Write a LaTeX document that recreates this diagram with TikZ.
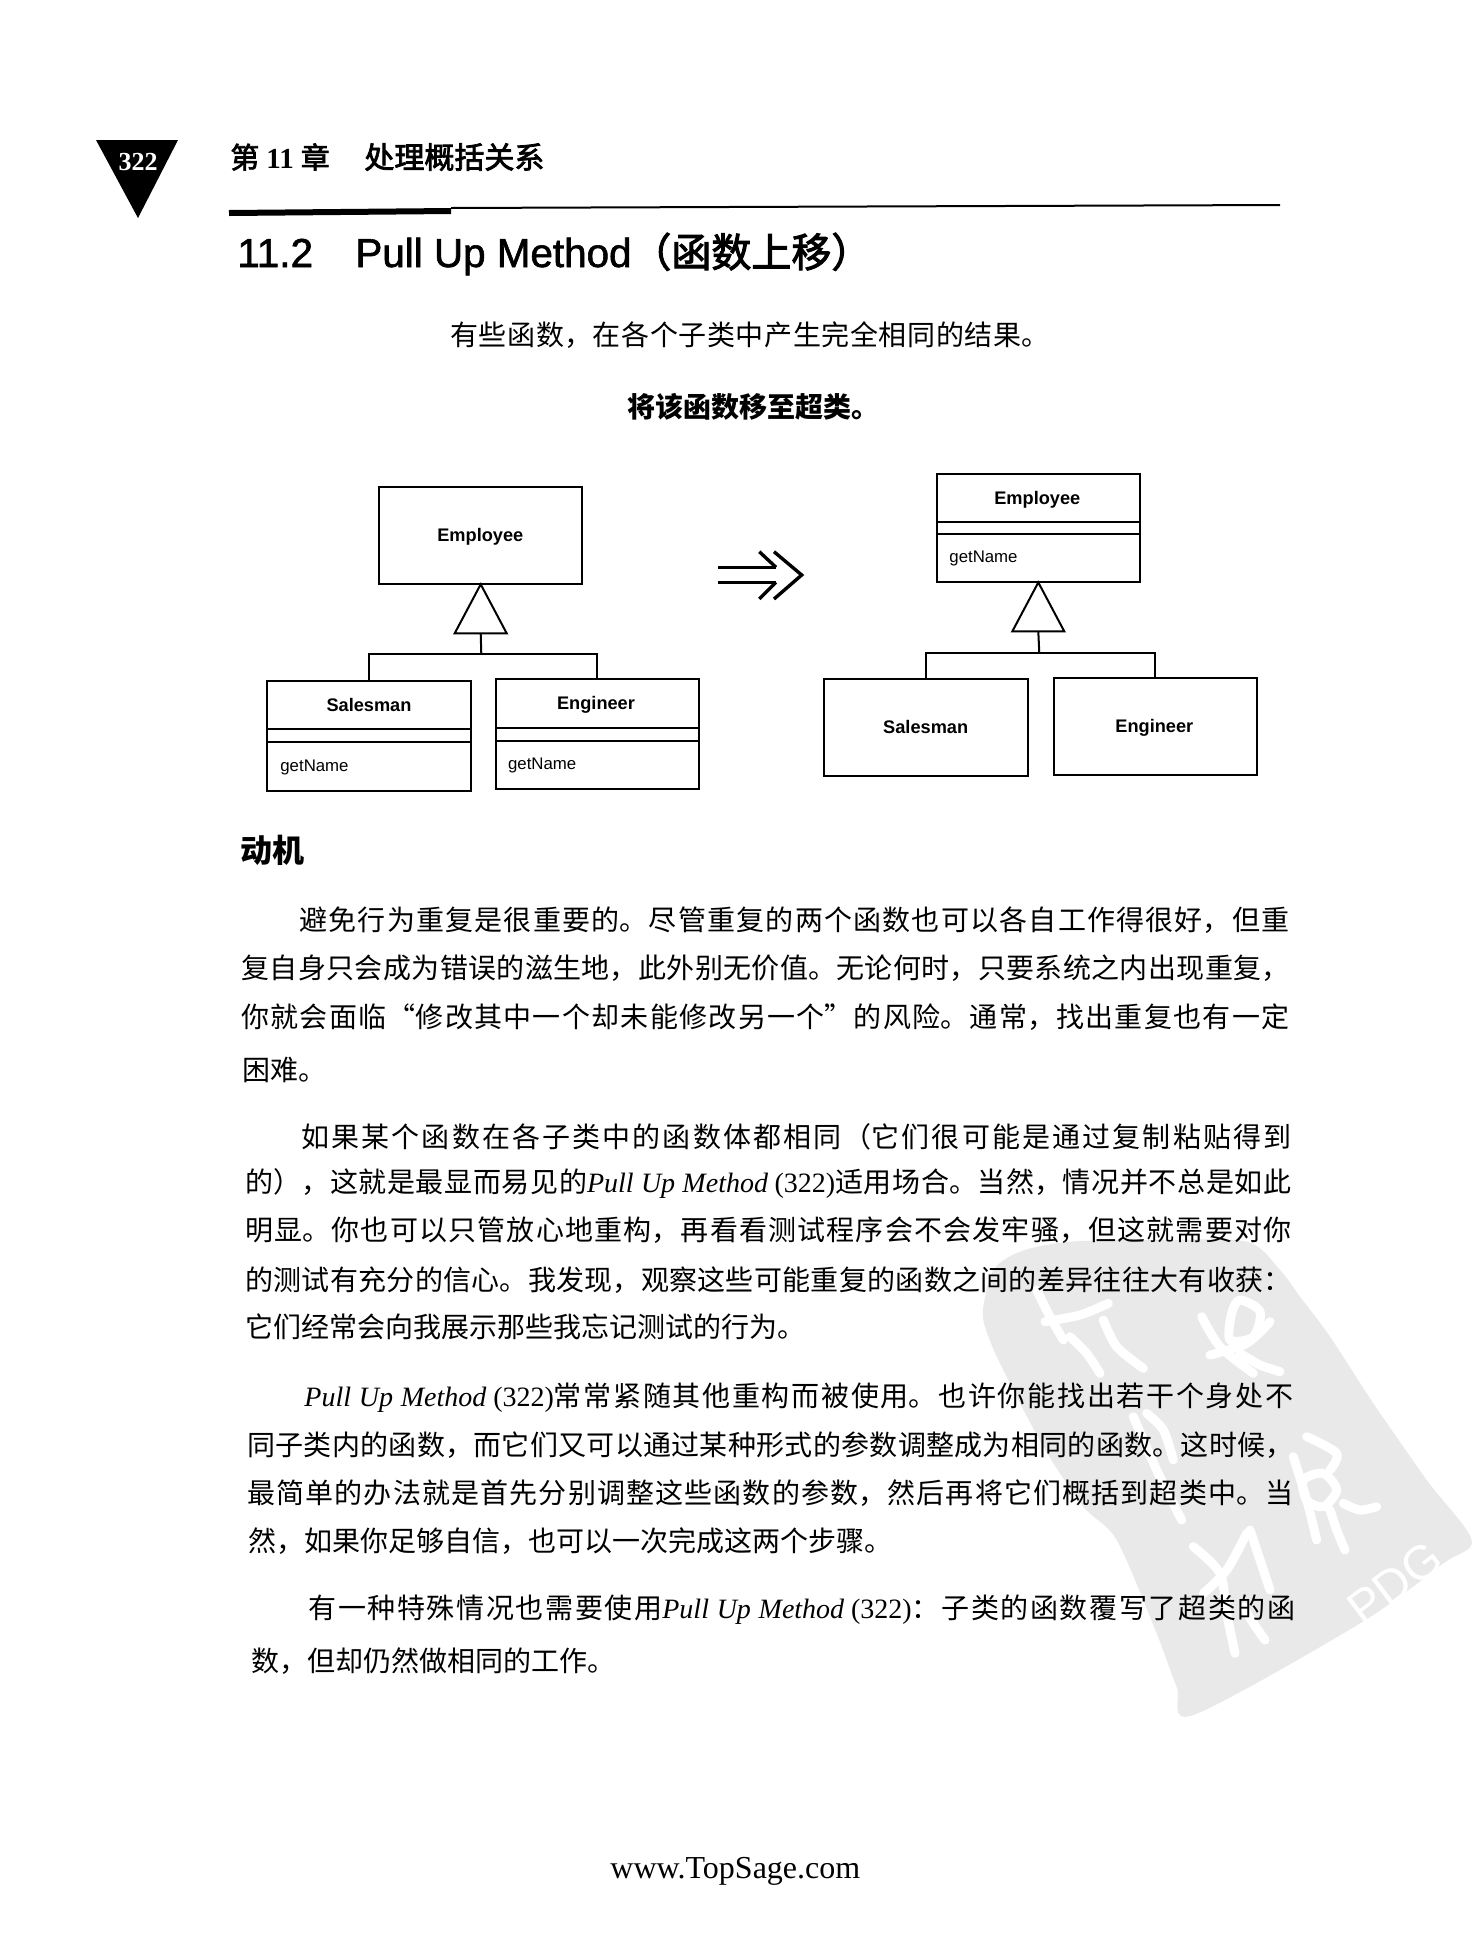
\documentclass[tikz,border=0pt]{standalone}
\usepackage{fontspec}
\setmainfont{Liberation Serif}
\setsansfont{Liberation Sans}
\newfontfamily\cjk{Noto Sans CJK SC}
\newfontfamily\cjkhead[FakeBold=2.5]{Noto Sans CJK SC}
\newfontfamily\sanshead[FakeBold=1.5]{Liberation Sans}
\XeTeXlinebreaklocale "zh"
\XeTeXlinebreakskip=0pt plus 4pt
\usetikzlibrary{shapes.geometric}
\newcommand{\jline}[2]{\parbox[c]{#1pt}{\parindent=0pt\parfillskip=0pt\tolerance=9999\leavevmode #2}}
\newcommand{\pum}{{\rmfamily\itshape Pull Up Method} {\rmfamily (322)}}
\definecolor{wmgray}{HTML}{E9E9E9}
\tikzset{
  classbox/.style={draw,line width=1pt,inner sep=0pt,outer sep=0pt,minimum width=101.7pt},
  classname/.style={inner sep=0pt,font=\sffamily\bfseries\fontsize{9.1}{10}\selectfont},
  method/.style={anchor=west,inner sep=0pt,font=\sffamily\fontsize{8.4}{10}\selectfont},
  gentri/.style={draw,fill=white,line width=1pt,isosceles triangle,isosceles triangle stretches,
    shape border rotate=90,anchor=apex,inner sep=0pt,outer sep=0pt,minimum width=26pt,minimum height=24.5pt},
  link/.style={line width=1pt},
  bodyline/.style={anchor=west,inner sep=0pt,font=\cjk\fontsize{14}{14}\selectfont},
  headline/.style={anchor=base west,inner sep=0pt,font=\sanshead\fontsize{20.2}{20}\selectfont},
  bigarrow/.style={line width=1.7pt},
  wmstroke/.style={draw=white,line width=4.5pt,line cap=round,line join=round}
}
\begin{document}
\begin{tikzpicture}[x=0.5pt,y=-0.5pt]
    \useasboundingbox (0,0) rectangle (1473,1939);
    \fill[white] (0,0) rectangle (1473,1939);

    \begin{scope}[shift={(960,1240)},x=0.16667pt,y=-0.16667pt]
      \fill[wmgray] plot[smooth cycle,tension=0.5] coordinates {(70,200) (100,90) (180,35) (330,5) (600,0) (860,5) (960,90) (1020,170) (1110,290) (1240,490) (1400,720) (1535,900) (1450,970) (1200,1150) (700,1425) (650,1340) (590,1180) (470,900) (370,800) (250,620) (120,370) (75,260)};
      \draw[wmstroke] plot[smooth] coordinates {(230,150) (270,230) (310,300)};
      \draw[wmstroke] plot[smooth] coordinates {(255,245) (360,225) (445,190)};
      \draw[wmstroke] plot[smooth] coordinates {(330,290) (380,340) (420,400)};
      \draw[wmstroke] plot[smooth] coordinates {(430,240) (470,320) (550,385)};
      \draw[wmstroke] plot[smooth cycle] coordinates {(840,180) (900,215) (880,290) (810,300) (815,220)};
      \draw[wmstroke] plot[smooth] coordinates {(725,230) (780,320) (880,400)};
      \draw[wmstroke] plot[smooth] coordinates {(750,345) (860,310) (930,245)};
      \draw[wmstroke] plot[smooth] coordinates {(840,340) (900,375) (960,395)};
      \draw[wmstroke] plot[smooth] coordinates {(520,530) (590,690) (665,840)};
      \draw[wmstroke] plot[smooth] coordinates {(560,520) (610,570) (640,660)};
      \draw[wmstroke] plot[smooth] coordinates {(1040,590) (1130,640) (1110,690)};
      \draw[wmstroke] plot[smooth cycle] coordinates {(1030,720) (1090,700) (1130,750) (1090,800) (1040,780)};
      \draw[wmstroke] plot[smooth] coordinates {(1000,650) (1040,780) (1070,900)};
      \draw[wmstroke] plot[smooth] coordinates {(1150,790) (1200,810) (1250,800)};
      \draw[wmstroke] plot[smooth] coordinates {(1110,810) (1130,870) (1155,930)};
      \draw[wmstroke] plot[smooth] coordinates {(700,920) (780,1000) (800,1120) (825,1240)};
      \draw[wmstroke] plot[smooth] coordinates {(730,1060) (800,990) (860,880)};
      \draw[wmstroke] plot[smooth] coordinates {(870,870) (900,960) (930,1050)};
      \draw[wmstroke] plot[smooth] coordinates {(850,1100) (880,1150) (915,1200)};
    \end{scope}
    \node[text=white,rotate=37,inner sep=0pt,font=\sffamily\fontsize{24}{24}\selectfont] (wmark) at (1395,1583) {PDG};

    \fill (96,140) -- (178,140) -- (138,218) -- cycle;
    \node[text=white,inner sep=0pt,font=\rmfamily\bfseries\fontsize{13}{13}\selectfont] (pageno) at (138,162) {322};
    \node[bodyline,font=\cjkhead\fontsize{14.5}{15}\selectfont] (chap) at (230,157) {第\hspace{3.5pt}{\rmfamily\bfseries 11}\hspace{3.5pt}章};
    \node[bodyline,font=\cjkhead\fontsize{15}{15}\selectfont] (chapname) at (364,157) {处理概括关系};
    \draw[line width=3pt] (229,213) -- (451,211);
    \draw[line width=1pt] (451,208) -- (1280,205);

    \node[headline] (secno) at (237,267) {11.2};
    \node[headline] (secname) at (355,267) {Pull Up Method};
    \node[headline,font=\cjkhead\fontsize{20}{20}\selectfont] (seccn) at (631,267) {（函数上移）};
    \node[bodyline] (intro) at (450,335) {\jline{299.5}{有些函数，在各个子类中产生完全相同的结果。}};
    \node[bodyline,font=\cjk\bfseries\fontsize{14}{14}\selectfont] (action) at (627,407) {将该函数移至超类。};

    \node[classbox,minimum height=48.8pt] (lemp) at (480.7,535.5) {};
    \node[classname] (lempn) at (480.3,537) {Employee};
    \node[classbox,minimum height=54.8pt] (lsal) at (369,735.8) {};
    \node[classname] (lsaln) at (369,705) {Salesman};
    \node[method] (lsalm) at (280,767) {getName};
    \node[classbox,minimum height=55pt] (leng) at (597.3,734.3) {};
    \node[classname] (lengn) at (596,705) {Engineer};
    \node[method] (lengm) at (507.7,765.5) {getName};
    \draw[link] ([yshift=-24.2pt]lsal.north west) -- ([yshift=-24.2pt]lsal.north east);
    \draw[link] ([yshift=-30.4pt]lsal.north west) -- ([yshift=-30.4pt]lsal.north east);
    \draw[link] ([yshift=-24.5pt]leng.north west) -- ([yshift=-24.5pt]leng.north east);
    \draw[link] ([yshift=-30.7pt]leng.north west) -- ([yshift=-30.7pt]leng.north east);
    \node[gentri] (ltri) at (lemp.south) {};
    \coordinate (lfork) at (481.3,654.3);
    \draw[link] (ltri.lower side) -- (lfork);
    \draw[link] (lsal.north) |- (lfork) -| (leng.north);

    \draw[bigarrow] (718.3,567.3) -- (776,567.3);
    \draw[bigarrow] (718.3,582.3) -- (776,582.3);
    \draw[bigarrow] (759.3,551.7) -- (776,567.3);
    \draw[bigarrow] (759.3,599) -- (776,582.3);
    \draw[bigarrow] (774,551.7) -- (801.7,575) -- (774,599);

    \node[classbox,minimum height=54.2pt] (remp) at (1038.3,528.2) {};
    \node[classname] (rempn) at (1037.3,499.5) {Employee};
    \node[method] (rempm) at (949,558.5) {getName};
    \draw[link] ([yshift=-24.2pt]remp.north west) -- ([yshift=-24.2pt]remp.north east);
    \draw[link] ([yshift=-30.2pt]remp.north west) -- ([yshift=-30.2pt]remp.north east);
    \node[classbox,minimum height=48.5pt] (rsal) at (925.8,727.2) {};
    \node[classname] (rsaln) at (925.7,727) {Salesman};
    \node[classbox,minimum height=48.4pt] (reng) at (1155.2,726.7) {};
    \node[classname] (rengn) at (1154.3,728) {Engineer};
    \node[gentri] (rtri) at (remp.south) {};
    \coordinate (rfork) at (1039.3,653.3);
    \draw[link] (rtri.lower side) -- (rfork);
    \draw[link] (rsal.north) |- (rfork) -| (reng.north);

    \node[bodyline,font=\cjk\bfseries\fontsize{16}{16}\selectfont] (motive) at (240,850) {动机};

    \node[bodyline] (pa1) at (299,920) {\jline{495}{避免行为重复是很重要的。尽管重复的两个函数也可以各自工作得很好，但重}};
    \node[bodyline] (pa2) at (241,968) {\jline{524}{复自身只会成为错误的滋生地，此外别无价值。无论何时，只要系统之内出现重复，}};
    \node[bodyline] (pa3) at (241,1017) {\jline{524}{你就会面临“修改其中一个却未能修改另一个”的风险。通常，找出重复也有一定}};
    \node[bodyline] (pa4) at (242,1070) {困难。};

    \node[bodyline] (pb1) at (301,1137) {\jline{495}{如果某个函数在各子类中的函数体都相同（它们很可能是通过复制粘贴得到}};
    \node[bodyline] (pb2) at (245,1183) {\jline{523}{的），这就是最显而易见的\pum 适用场合。当然，情况并不总是如此}};
    \node[bodyline] (pb3) at (245,1230) {\jline{523}{明显。你也可以只管放心地重构，再看看测试程序会不会发牢骚，但这就需要对你}};
    \node[bodyline] (pb4) at (245,1280) {\jline{523}{的测试有充分的信心。我发现，观察这些可能重复的函数之间的差异往往大有收获：}};
    \node[bodyline] (pb5) at (245,1327) {它们经常会向我展示那些我忘记测试的行为。};

    \node[bodyline] (pc1) at (304,1398) {\jline{494.5}{\pum 常常紧随其他重构而被使用。也许你能找出若干个身处不}};
    \node[bodyline] (pc2) at (247,1445) {\jline{523}{同子类内的函数，而它们又可以通过某种形式的参数调整成为相同的函数。这时候，}};
    \node[bodyline] (pc3) at (247,1493) {\jline{523}{最简单的办法就是首先分别调整这些函数的参数，然后再将它们概括到超类中。当}};
    \node[bodyline] (pc4) at (248,1541) {然，如果你足够自信，也可以一次完成这两个步骤。};

    \node[bodyline] (pd1) at (308,1610) {\jline{493.5}{有一种特殊情况也需要使用\pum ：子类的函数覆写了超类的函}};
    \node[bodyline] (pd2) at (251,1661) {数，但却仍然做相同的工作。};

    \node[anchor=west,inner sep=0pt,font=\rmfamily\fontsize{16}{16}\selectfont] (footer) at (610,1871) {www.TopSage.com};
\end{tikzpicture}
\end{document}
